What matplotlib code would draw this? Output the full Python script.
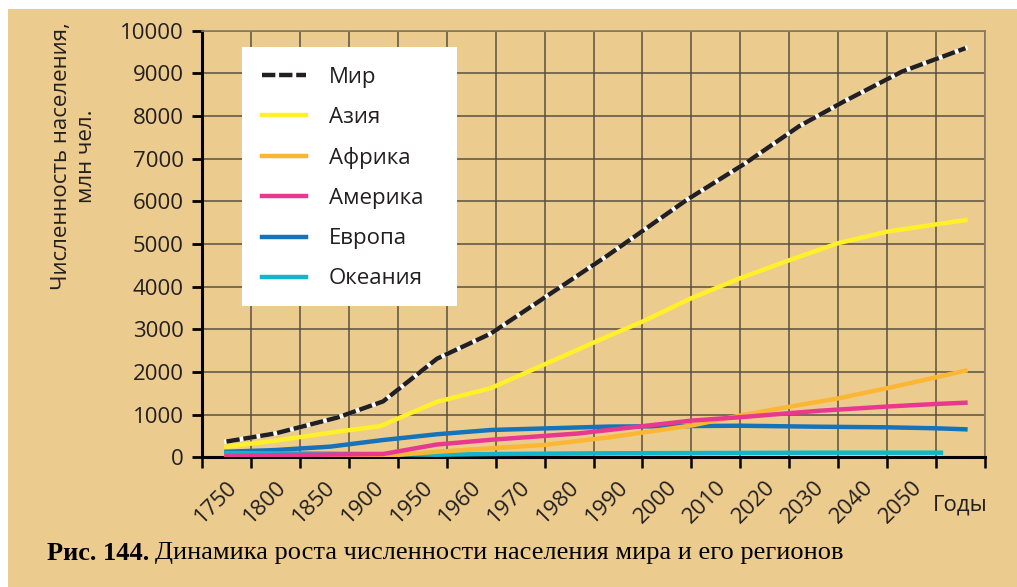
import numpy as np
import matplotlib
matplotlib.use('Agg')
import matplotlib.pyplot as plt
from matplotlib.patches import Rectangle
from matplotlib.transforms import ScaledTranslation

# x axis: equal-width year cells (50-year steps, then decades), last cell unlabeled
cell_years = [1750, 1800, 1850, 1900, 1950, 1960, 1970, 1980, 1990, 2000,
              2010, 2020, 2030, 2040, 2050, 2060]
tick_labels = ['1750', '1800', '1850', '1900', '1950', '1960', '1970', '1980',
               '1990', '2000', '2010', '2020', '2030', '2040', '2050', '']

# population, mln people
world_years = [1750, 1800, 1863, 1910, 1953, 1964, 1988, 2004, 2016, 2027, 2036, 2048, 2061]
world_pop = [370, 560, 930, 1310, 2310, 2900, 4740, 6030, 6890, 7760, 8330, 9040, 9590]

asia_years = [1750, 1800, 1863, 1907, 1953, 1964, 1988, 1995, 2005, 2015, 2025, 2035, 2045, 2055, 2061]
asia_pop = [250, 390, 600, 730, 1300, 1620, 2840, 3180, 3730, 4200, 4620, 5020, 5290, 5460, 5560]

africa_years = [1750, 1910, 1953, 1964, 1975, 1988, 2005, 2015, 2027, 2035, 2045, 2055, 2061]
africa_pop = [30, 30, 130, 210, 290, 465, 745, 980, 1225, 1380, 1620, 1875, 2030]

america_years = [1750, 1910, 1953, 1964, 1982, 2005, 2015, 2031, 2045, 2055, 2061]
america_pop = [37, 77, 300, 410, 560, 860, 940, 1090, 1190, 1250, 1280]

europe_years = [1750, 1800, 1856, 1910, 1953, 1964, 1988, 2005, 2015, 2031, 2045, 2055, 2061]
europe_pop = [130, 170, 250, 405, 540, 640, 720, 733, 740, 717, 703, 680, 656]

oceania_years = [1750, 1910, 1953, 1964, 1988, 2031, 2056]
oceania_pop = [100, 75, 60, 77, 94, 108, 108]

bg = '#eccc8e'
grid_c = '#5a4f40'
txt_c = '#231f20'

plt.rcParams['font.family'] = ['Open Sans', 'DejaVu Sans']

fig = plt.figure(figsize=(10.17, 5.87), dpi=100, facecolor=bg)
# white margins along top and left edges
fig.add_artist(Rectangle((0, 1 - 9 / 587), 1, 9 / 587, transform=fig.transFigure,
                         facecolor='white', edgecolor='none'))
fig.add_artist(Rectangle((0, 0), 8 / 1017, 1, transform=fig.transFigure,
                         facecolor='white', edgecolor='none'))

ax = fig.add_axes([202 / 1017, (587 - 457.3) / 587, 783 / 1017, 426.6 / 587])
ax.set_facecolor(bg)

# piecewise-linear year scale so every cell has the same width
edge_years = [1725] + cell_years + [2065]
edge_pos = [-0.5] + list(range(len(cell_years))) + [len(cell_years) - 0.5]


def fwd(x):
    return np.interp(x, edge_years, edge_pos)


def inv(p):
    return np.interp(p, edge_pos, edge_years)


ax.set_xscale('function', functions=(fwd, inv))
ax.set_xlim(1725, 2065)
ax.set_ylim(0, 10000)

bounds = inv(np.arange(-0.5, len(cell_years), 1.0))
ax.set_xticks(cell_years)
ax.set_xticklabels(tick_labels, rotation=45, ha='right', va='top',
                   rotation_mode='anchor', fontsize=16, color=txt_c)
shift = ScaledTranslation(-5 / 100, -2 / 100, fig.dpi_scale_trans)
for lab in ax.get_xticklabels():
    lab.set_transform(lab.get_transform() + shift)
ax.set_xticks(bounds, minor=True)
ax.tick_params(axis='x', which='major', length=0, pad=14)
ax.tick_params(axis='x', which='minor', length=8, width=1.8, color='black', direction='out')

ax.set_yticks(np.arange(0, 10001, 1000))
ax.tick_params(axis='y', length=7, width=2, color='black', direction='out',
               labelsize=16, labelcolor=txt_c, pad=6)

ax.grid(which='minor', axis='x', color=grid_c, lw=1.1)
ax.grid(which='major', axis='y', color=grid_c, lw=1.1)
ax.grid(which='major', axis='x', visible=False)
ax.set_axisbelow(True)

for s in ['left', 'bottom']:
    ax.spines[s].set_color('black')
    ax.spines[s].set_linewidth(2.2)
for s in ['top', 'right']:
    ax.spines[s].set_color('#8a7b63')
    ax.spines[s].set_linewidth(1.2)

lw = 3.2
ax.plot(europe_years, europe_pop, color='#1672b9', lw=lw, label='Европа', zorder=3)
ax.plot(oceania_years, oceania_pop, color='#12b5c9', lw=lw, label='Океания', zorder=3)
ax.plot(africa_years, africa_pop, color='#fbb634', lw=lw, label='Африка', zorder=4)
ax.plot(america_years, america_pop, color='#e9388f', lw=lw, label='Америка', zorder=5)
ax.plot(asia_years, asia_pop, color='#fff02a', lw=lw, label='Азия', zorder=6)
ax.plot(world_years, world_pop, color='white', lw=lw, zorder=7)
ax.plot(world_years, world_pop, color='#231f20', lw=lw, dashes=(3.0, 0.85),
        label='Мир', zorder=8)

# white legend panel
ax.add_patch(Rectangle((0.0511, 0.3547), 0.2746, 0.607, transform=ax.transAxes,
                       facecolor='white', edgecolor='none', zorder=9))

handles, labels = ax.get_legend_handles_labels()
order = ['Мир', 'Азия', 'Африка', 'Америка', 'Европа', 'Океания']
hmap = dict(zip(labels, handles))
leg = ax.legend([hmap[k] for k in order], order, loc='upper left',
                bbox_to_anchor=(0.051, 0.962), fontsize=16, frameon=False,
                borderpad=0.9, labelspacing=0.86, handlelength=2.0,
                handletextpad=1.0, borderaxespad=0)
for t in leg.get_texts():
    t.set_color(txt_c)
leg.set_zorder(10)

ax.text(1.003, -0.112, 'Годы', transform=ax.transAxes, ha='right', va='center',
        fontsize=16, color=txt_c)

fig.text(74 / 1017, 1 - 156 / 587, 'Численность населения,\nмлн чел.', rotation=90,
         ha='center', va='center', fontsize=16, color=txt_c, linespacing=1.3,
         multialignment='center')

cap1 = fig.text(47 / 1017, 1 - 553 / 587, 'Рис. 144.', family='Liberation Serif',
                fontweight='bold', fontsize=19, color='black', va='center', ha='left')
fig.add_artist(matplotlib.text.Annotation(
    'Динамика роста численности населения мира и его регионов',
    xy=(1, 0), xycoords=cap1, xytext=(4, 0), textcoords='offset points',
    va='bottom', ha='left', family='Liberation Serif', fontsize=19, color='black'))

fig.savefig('out.png', dpi=100, facecolor=bg)
